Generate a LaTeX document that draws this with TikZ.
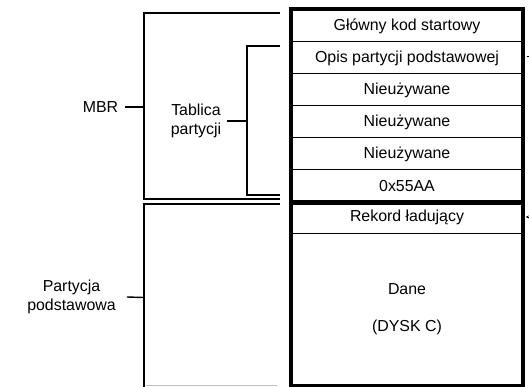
\documentclass[tikz,border=0pt]{standalone}
\usepackage{fontspec}
\setmainfont{Liberation Sans}
\usetikzlibrary{arrows.meta}
\begin{document}
\begin{tikzpicture}[x=1pt,y=-1pt,
  ln/.style={line width=1.4pt},
  heavy/.style={line width=4pt},
  txt/.style={font=\fontsize{15.9}{18.5}\selectfont, inner sep=0pt, align=center},
  row/.style={draw, line width=1pt, minimum width=231pt, inner sep=0pt,
    anchor=north west, font=\fontsize{15.9}{18.5}\selectfont, align=center}]
\useasboundingbox (0,0) rectangle (529,387);
% rows of the disk map
\node[row, minimum height=32pt] (r1) at (291,9.5) {Główny kod startowy};
\node[row, minimum height=32pt] (r2) at (291,41.5) {Opis partycji podstawowej};
\node[row, minimum height=32pt] (r3) at (291,73.5) {Nieużywane};
\node[row, minimum height=32pt] (r4) at (291,105.5) {Nieużywane};
\node[row, minimum height=32pt] (r5) at (291,137.5) {Nieużywane};
\node[row, minimum height=32pt] (r6) at (291,169.5) {0x55AA};
\node[row, minimum height=31.5pt] (r7) at (291,201.5) {Rekord ładujący};
\node[row, minimum height=151.5pt] (r8) at (291,233) {Dane\\[18.5pt](DYSK C)};
\draw[heavy] (r1.north west) rectangle (r8.south east);
\draw[heavy] (r6.south west) -- (r6.south east);
% MBR bracket
\coordinate (mbrTR) at (280,13);
\coordinate (mbrTL) at (144,13);
\coordinate (mbrBL) at (144,199);
\coordinate (mbrBR) at (280,199);
\coordinate (mbrM) at (144,107);
\draw[ln] (mbrTR) -- (mbrTL) -- (mbrBL) -- (mbrBR);
\node[txt] (mbr) at (100.5,107) {MBR};
\draw[ln] ([xshift=7pt]mbr.east) -- (mbrM);
% partition table bracket
\coordinate (tabTR) at (280,46);
\coordinate (tabTL) at (247,46);
\coordinate (tabBL) at (247,195);
\coordinate (tabBR) at (280,195);
\coordinate (tabM) at (247,121);
\draw[ln] (tabTR) -- (tabTL) -- (tabBL) -- (tabBR);
\node[txt] (tab) at (196,121) {Tablica\\partycji};
\draw[ln] ([xshift=6pt]tab.east) -- (tabM);
% primary partition bracket
\coordinate (parTR) at (280,204);
\coordinate (parTL) at (144,204);
\coordinate (parBL) at (144,387);
\coordinate (parM) at (144,297.5);
\coordinate (parG1) at (146,385.5);
\coordinate (parG2) at (277,385.5);
\draw[ln] (parTR) -- (parTL) -- (parBL);
\draw[line width=1pt, black!25] (parG1) -- (parG2);
\node[txt] (par) at (71.5,297) {Partycja\\podstawowa};
\draw[ln] ([xshift=11pt]par.east) -- (parM);
% clipped connector stubs at the right edge
\coordinate (s1a) at (526.5,56.5);
\coordinate (s1b) at (529.5,56.5);
\coordinate (s2a) at (529.5,217);
\coordinate (s2b) at (525.8,217);
\draw[line width=1pt] (s1a) -- (s1b);
\draw[line width=0.8pt, -{Stealth[length=3pt,width=3pt]}] (s2a) -- (s2b);
\end{tikzpicture}
\end{document}
